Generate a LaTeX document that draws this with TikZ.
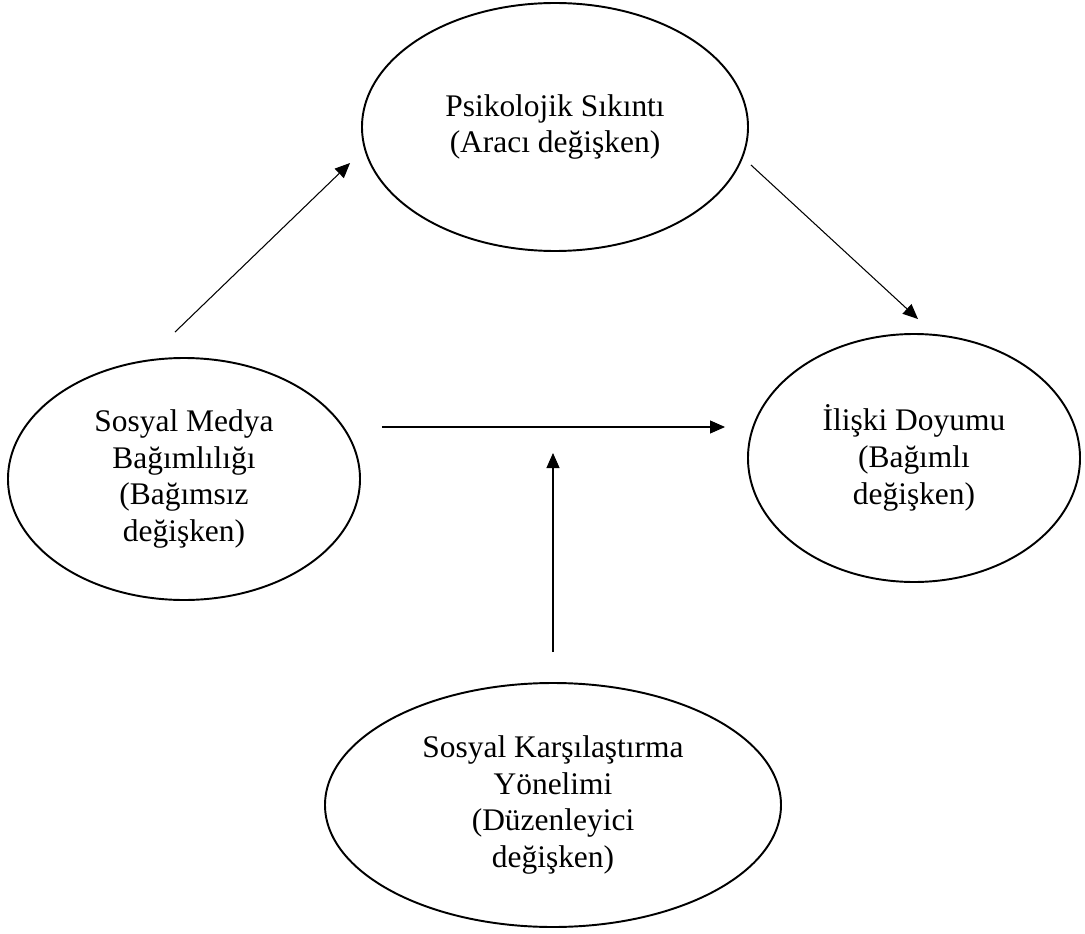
\documentclass[tikz,border=0pt]{standalone}
\usepackage{fontspec}
\setmainfont{Liberation Serif}
\usetikzlibrary{shapes.geometric,arrows.meta}
\begin{document}
\begin{tikzpicture}[deg/.style={ellipse,draw,line width=1.1pt,inner sep=0pt,align=center,font=\fontsize{17.9}{20.9}\selectfont},
 ok/.style={-{Triangle[length=.3cm,width=.26cm]},line width=.6pt}]
\useasboundingbox (0,0) rectangle (21.7,-18.68);
\node[deg,minimum width=7.72cm,minimum height=4.96cm] (ps) at (11.1,-2.54) {Psikolojik Sıkıntı\\(Aracı değişken)};
\node[deg,minimum width=7.04cm,minimum height=4.84cm] (smb) at (3.68,-9.58) {Sosyal Medya\\Bağımlılığı\\(Bağımsız\\değişken)};
\node[deg,minimum width=6.64cm,minimum height=4.96cm] (id) at (18.28,-9.16) {İlişki Doyumu\\(Bağımlı\\değişken)};
\node[deg,minimum width=9.12cm,minimum height=4.88cm] (sky) at (11.06,-16.1) {Sosyal Karşılaştırma\\Yönelimi\\(Düzenleyici\\değişken)};
\coordinate (h1) at ([shift={(.42,1.04)}]smb.east);
\coordinate (h2) at ([shift={(-.44,.62)}]id.west);
\draw[ok] ([shift={(-.18,.5)}]smb.north) -- ([shift={(-.22,-.72)}]ps.west);
\draw[ok] ([shift={(.04,-.76)}]ps.east) -- ([shift={(.08,.28)}]id.north);
\draw[ok] (h1) -- (h2);
\draw[ok] ([yshift=.6cm]sky.north) -- ([yshift=-.52cm]h1 -| sky.north);
\end{tikzpicture}
\end{document}
